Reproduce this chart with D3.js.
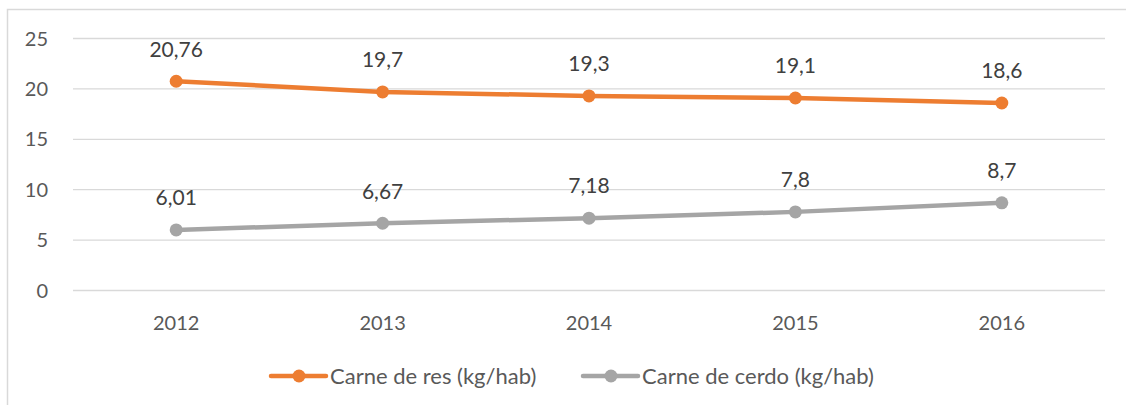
<!DOCTYPE html>
<html><head><meta charset="utf-8">
<script src="https://cdn.jsdelivr.net/npm/d3@7"></script>
<style>body{margin:0;background:#fff}svg{display:block}text{font-family:Lato,"Open Sans",sans-serif}</style>
</head><body><svg id="c" width="1126" height="405"></svg>
<script>
const categories = ["2012","2013","2014","2015","2016"];
const resValues = [20.76, 19.7, 19.3, 19.1, 18.6];
const cerdoValues = [6.01, 6.67, 7.18, 7.8, 8.7];
const resLabels = ["20,76","19,7","19,3","19,1","18,6"];
const cerdoLabels = ["6,01","6,67","7,18","7,8","8,7"];
const yTicks = [0,5,10,15,20,25];
const seriesNames = ["Carne de res (kg/hab)","Carne de cerdo (kg/hab)"];

const svg = d3.select("#c");
svg.append("rect").attr("x",7.5).attr("y",9.5).attr("width",1130).attr("height",420)
  .attr("fill","none").attr("stroke","#d9d9d9").attr("stroke-width",1.5);
const x = d3.scaleBand().domain(categories).range([73,1105]);
const y = d3.scaleLinear().domain([0,25]).range([290.5,38.5]);

svg.append("g").selectAll("line").data(yTicks).join("line")
  .attr("x1",73).attr("x2",1105).attr("y1",d=>y(d)).attr("y2",d=>y(d))
  .attr("stroke","#d9d9d9").attr("stroke-width",1.3);
svg.append("g").selectAll("text").data(yTicks).join("text")
  .attr("x",48).attr("y",d=>y(d)).attr("dy","0.35em").attr("text-anchor","end")
  .attr("font-size",20).attr("fill","#595959").text(d=>d);
svg.append("g").selectAll("text").data(categories).join("text")
  .attr("x",d=>x(d)+x.bandwidth()/2).attr("y",323).attr("dy","0.35em").attr("text-anchor","middle")
  .attr("font-size",20).attr("fill","#595959").text(d=>d);

const series = [
  {vals:resValues, labels:resLabels, color:"#ED7D31"},
  {vals:cerdoValues, labels:cerdoLabels, color:"#A5A5A5"}
];
const cx = d => x(d)+x.bandwidth()/2;
series.forEach(s=>{
  const pts = categories.map((c,i)=>[cx(c), y(s.vals[i])]);
  svg.append("path").attr("d",d3.line()(pts)).attr("fill","none")
    .attr("stroke",s.color).attr("stroke-width",4.5).attr("stroke-linejoin","round").attr("stroke-linecap","round");
  svg.append("g").selectAll("circle").data(pts).join("circle")
    .attr("cx",d=>d[0]).attr("cy",d=>d[1]).attr("r",6.5).attr("fill",s.color);
  svg.append("g").selectAll("text").data(categories).join("text")
    .attr("x",c=>cx(c)).attr("y",(c,i)=>y(s.vals[i])-32).attr("dy","0.35em").attr("text-anchor","middle")
    .attr("font-size",21).attr("fill","#404040").text((c,i)=>s.labels[i]);
});

const leg = [{x:271, color:"#ED7D31", name:seriesNames[0]},{x:583, color:"#A5A5A5", name:seriesNames[1]}];
leg.forEach(l=>{
  svg.append("line").attr("x1",l.x).attr("x2",l.x+55).attr("y1",376).attr("y2",376)
    .attr("stroke",l.color).attr("stroke-width",4.5).attr("stroke-linecap","round");
  svg.append("circle").attr("cx",l.x+28).attr("cy",376).attr("r",6.5).attr("fill",l.color);
  svg.append("text").attr("x",l.x+59).attr("y",376).attr("dy","0.35em")
    .attr("font-size",22).attr("fill","#595959").text(l.name);
});
</script></body></html>
